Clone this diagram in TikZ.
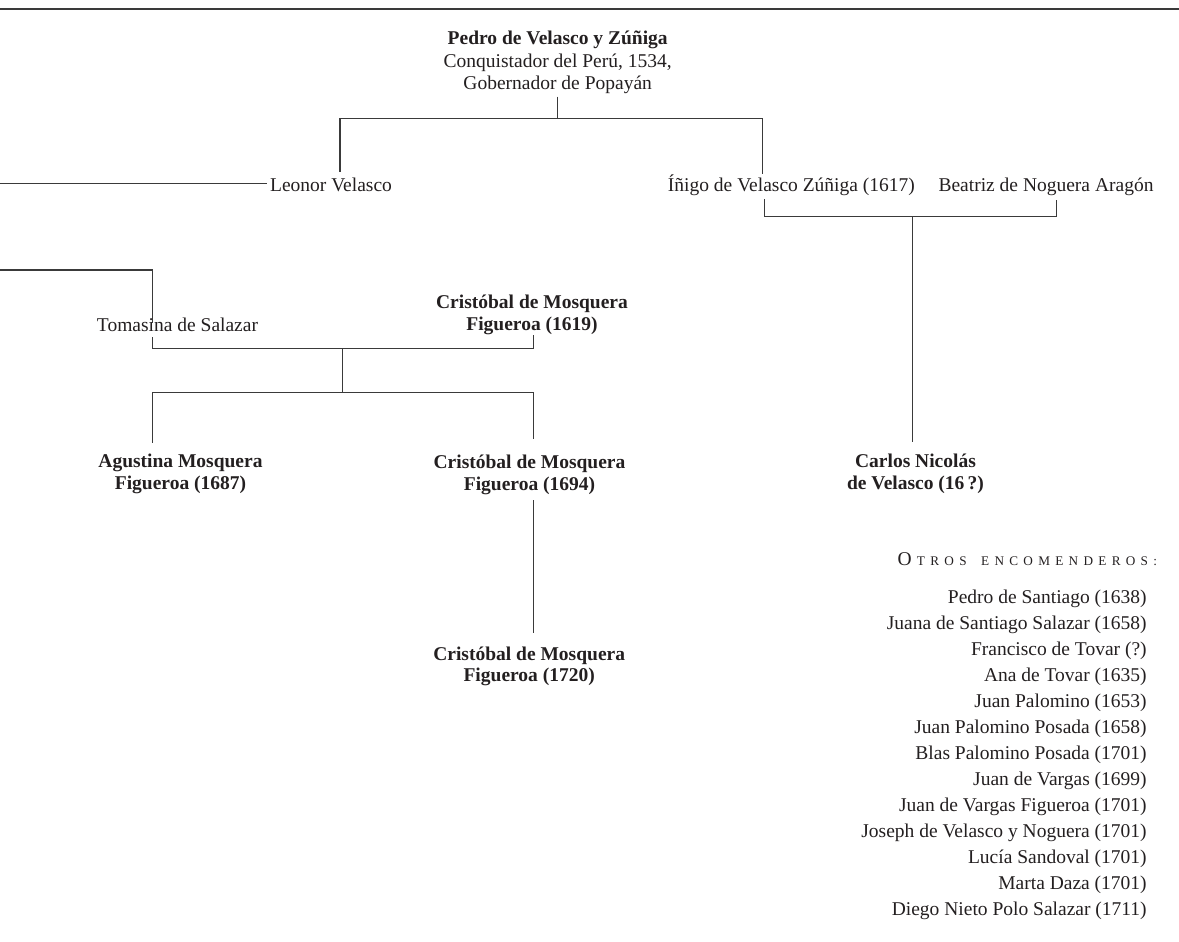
\documentclass[tikz,border=0pt]{standalone}
\usepackage{fontspec}
\setmainfont{Liberation Serif}
\definecolor{ink}{HTML}{231F20}
\definecolor{linec}{HTML}{3A3A3A}
\newcommand{\tk}{\hspace{5.3pt}}
\begin{document}
\begin{tikzpicture}[x=1pt,y=-1pt,
  nm/.style={font=\fontsize{19.5}{22}\selectfont, text=ink, inner sep=0pt, outer sep=0pt, align=center, anchor=base},
  one/.style={nm, text height=13.3pt, text depth=4.2pt},
  bd/.style={nm, font=\fontsize{19.5}{21.7}\selectfont\bfseries},
  lst/.style={font=\fontsize{19.5}{26}\selectfont, text=ink, inner sep=0pt, outer sep=0pt, align=right, anchor=base east},
  ln/.style={draw=linec, line width=1.3pt},
  rule/.style={draw=linec, line width=1.8pt}]
\useasboundingbox (0,0) rectangle (1179,942);

% top rule
\coordinate (ruleL) at (0,9.3);
\coordinate (ruleR) at (1179,9.3);
\draw[rule] (ruleL) -- (ruleR);

% nodes (multi-line nodes are placed by the baseline of their last line)
\node[nm] (pedro) at (557.7,89) {\textbf{Pedro de Velasco y Zúñiga}\\Conquistador del Perú, 1534,\\Gobernador de Popayán};
\node[one] (leonor) at (331,191.7) {Leonor Velasco};
\node[one] (inigo) at (791.4,191.7) {Íñigo de Velasco Zúñiga (1617)};
\node[one] (beatriz) at (1046,191.7) {Beatriz de Noguera Aragón};
\node[one] (tomasina) at (177.5,331) {Tomasina de Salazar};
\node[bd] (cris1619) at (532,330) {Cristóbal de Mosquera\\Figueroa (1619)};
\node[bd] (agustina) at (180.5,489.3) {Agustina Mosquera\\Figueroa (1687)};
\node[bd] (cris1694) at (529.5,490) {Cristóbal de Mosquera\\Figueroa (1694)};
\node[bd] (cris1720) at (529.2,681.7) {Cristóbal de Mosquera\\Figueroa (1720)};
\node[bd] (carlos) at (915.5,489.3) {Carlos Nicolás\\de Velasco (16\,?)};
\node[lst] (otros) at (1157,565) {O\tk{\fontsize{13.2}{16}\selectfont T\tk R\tk O\tk S\tk\hspace{6pt} E\tk N\tk C\tk O\tk M\tk E\tk N\tk D\tk E\tk R\tk O\tk S\tk:}};
\node[lst] (lista) at (1146.7,915) {Pedro de Santiago (1638)\\
Juana de Santiago Salazar (1658)\\
Francisco de Tovar (?)\\
Ana de Tovar (1635)\\
Juan Palomino (1653)\\
Juan Palomino Posada (1658)\\
Blas Palomino Posada (1701)\\
Juan de Vargas (1699)\\
Juan de Vargas Figueroa (1701)\\
Joseph de Velasco y Noguera (1701)\\
Lucía Sandoval (1701)\\
Marta Daza (1701)\\
Diego Nieto Polo Salazar (1711)};

% junction coordinates
\coordinate (pj) at (557.7,118.3);
\coordinate (jl) at (340,118.3);
\coordinate (jr) at (762.7,118.3);
\coordinate (leoL) at (0,183.3);
\coordinate (cl) at (764.3,216.7);
\coordinate (cm) at (912.3,216.7);
\coordinate (cr) at (1056.8,216.7);
\coordinate (tomL) at (0,270);
\coordinate (tk) at (152.3,270);
\coordinate (tl) at (152.3,348.3);
\coordinate (tm) at (342.3,348.3);
\coordinate (tr) at (533.3,348.3);
\coordinate (km) at (342.3,392.7);
\coordinate (kl) at (152.3,392.7);
\coordinate (kr) at (533.3,392.7);
\coordinate (vx) at (533.3,560);

% connectors
\draw[ln, shorten <=3.5pt] (pedro.south) -- (pj);
\draw[ln, shorten <=6.7pt, shorten >=4.4pt] (leonor.north -| jl) -- (jl) -- (jr) -- (inigo.north -| jr);
\draw[ln, shorten >=3pt] (leoL) -- (leoL -| leonor.west);
\draw[ln, shorten <=3.4pt, shorten >=4.1pt] (inigo.south -| cl) -- (cl) -- (cr) -- (beatriz.south -| cr);
\draw[ln, shorten >=12pt] (cm) -- (cm |- carlos.north);
\draw[ln, shorten >=-5.6pt] (tomL) -- (tk) -- (tomasina.north -| tk);
\draw[ln, shorten <=2pt, shorten >=0.8pt] (tomasina.south -| tl) -- (tl) -- (tr) -- (cris1619.south -| tr);
\draw[ln] (tm) -- (km);
\draw[ln, shorten <=11.1pt, shorten >=15.5pt] (agustina.north -| kl) -- (kl) -- (kr) -- (cris1694.north -| kr);
\draw[ln, shorten <=5.8pt, shorten >=13.2pt] (cris1694.south -| vx) -- (cris1720.north -| vx);
\end{tikzpicture}
\end{document}
